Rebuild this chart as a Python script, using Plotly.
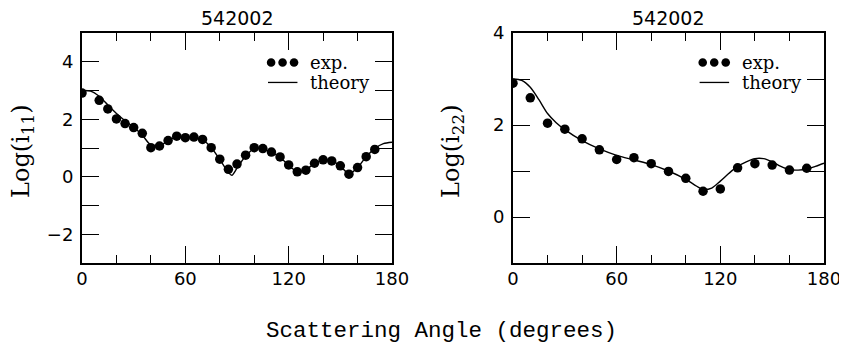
import plotly.graph_objects as go

# ---------------- data ----------------
# Left panel: Log(i11)
exp_angle_11 = [0, 10, 15, 20, 25, 30, 35, 40, 45, 50, 55, 60, 65, 70, 75, 80, 85, 90,
                95, 100, 105, 110, 115, 120, 125, 130, 135, 140, 145, 150, 155, 160, 165, 170]
exp_i11 = [2.91, 2.66, 2.36, 2.01, 1.85, 1.71, 1.51, 1.01, 1.07, 1.26, 1.41, 1.36, 1.38, 1.30,
           1.01, 0.61, 0.26, 0.44, 0.75, 1.01, 0.98, 0.86, 0.69, 0.41, 0.17, 0.23, 0.47, 0.59,
           0.55, 0.38, 0.09, 0.32, 0.70, 0.95]
theory_angle_11 = [0, 5, 10, 15, 20, 25, 30, 35, 40, 45, 50, 55, 60, 65, 70, 75, 80, 85, 87,
                   90, 95, 100, 105, 110, 115, 120, 125, 130, 135, 140, 145, 150, 155, 160,
                   165, 170, 175, 180]
theory_i11 = [3.00, 2.98, 2.80, 2.50, 2.20, 1.95, 1.72, 1.45, 1.10, 1.08, 1.25, 1.40, 1.38,
              1.37, 1.28, 1.02, 0.60, 0.15, 0.05, 0.30, 0.72, 0.98, 0.97, 0.85, 0.68, 0.40,
              0.18, 0.24, 0.47, 0.58, 0.55, 0.37, 0.10, 0.32, 0.70, 0.98, 1.15, 1.20]

# Right panel: Log(i22)
exp_angle_22 = [0, 10, 20, 30, 40, 50, 60, 70, 80, 90, 100, 110, 120, 130, 140, 150, 160, 170]
exp_i22 = [2.91, 2.59, 2.04, 1.91, 1.70, 1.46, 1.25, 1.29, 1.16, 0.99, 0.84, 0.56, 0.61,
           1.07, 1.16, 1.13, 1.02, 1.06]
theory_angle_22 = [0, 5, 10, 15, 20, 25, 30, 40, 50, 60, 70, 80, 90, 100, 105, 110, 115, 120,
                   125, 130, 135, 140, 145, 150, 155, 160, 165, 170, 175, 180]
theory_i22 = [3.00, 2.97, 2.82, 2.55, 2.25, 2.05, 1.90, 1.66, 1.48, 1.34, 1.24, 1.14, 1.00,
              0.82, 0.70, 0.60, 0.63, 0.78, 0.95, 1.10, 1.20, 1.27, 1.27, 1.20, 1.10, 1.03,
              1.02, 1.04, 1.10, 1.17]

panel_title = "542002"
x_title = "Scattering Angle (degrees)"
y_title_left = "Log(i<sub>11</sub>)"
y_title_right = "Log(i<sub>22</sub>)"
legend_exp = "exp."
legend_theory = "theory"

# ---------------- figure ----------------
# the page body adds an 8px margin: reference pixel positions are shifted by 8px
# (the figure keeps the full size; its overflow simply lies outside the window)
OFF = 8
W, H = 847, 347
fig = go.Figure()

for xa, ya, ax, ay, tx, ty in [("x", "y", exp_angle_11, exp_i11, theory_angle_11, theory_i11),
                               ("x2", "y2", exp_angle_22, exp_i22, theory_angle_22, theory_i22)]:
    fig.add_trace(go.Scatter(x=tx, y=ty, mode="lines",
                             line=dict(color="black", width=1.4, shape="spline", smoothing=0.8),
                             xaxis=xa, yaxis=ya, showlegend=False, hoverinfo="skip"))
    fig.add_trace(go.Scatter(x=ax, y=ay, mode="markers", marker=dict(color="black", size=9.5),
                             xaxis=xa, yaxis=ya, showlegend=False))

tickfont = dict(family="DejaVu Sans", size=18, color="black")


def xaxis_cfg(domain, anchor):
    return dict(domain=domain, anchor=anchor, range=[0, 180], tick0=0, dtick=60,
                ticks="inside", ticklen=17, tickwidth=1.3, tickcolor="black",
                minor=dict(dtick=20, ticks="inside", ticklen=8, tickwidth=1.3, tickcolor="black"),
                showline=True, linecolor="black", linewidth=2, mirror="ticks",
                showgrid=False, zeroline=False, tickfont=tickfont, ticklabelstandoff=-2)


def yaxis_cfg(domain, anchor, rng):
    return dict(domain=domain, anchor=anchor, range=rng, tick0=0, dtick=2,
                ticks="inside", ticklen=17, tickwidth=1.3, tickcolor="black",
                minor=dict(dtick=1, ticks="inside", ticklen=17, tickwidth=1.3, tickcolor="black"),
                showline=True, linecolor="black", linewidth=2, mirror="ticks",
                showgrid=False, zeroline=False, tickfont=tickfont, ticklabelstandoff=3)


def px_x(p):
    return (p - OFF) / W


def px_y(p):
    return 1 - (p - OFF) / H


ydom = [px_y(263), px_y(33)]
dom1 = [px_x(82), px_x(392)]
dom2 = [px_x(513), px_x(824)]

fig.update_layout(
    width=W, height=H,
    margin=dict(l=0, r=0, t=0, b=0, autoexpand=False),
    paper_bgcolor="white", plot_bgcolor="white",
    xaxis=xaxis_cfg(dom1, "y"),
    yaxis=yaxis_cfg(ydom, "x", [-3, 5]),
    xaxis2=xaxis_cfg(dom2, "y2"),
    yaxis2=yaxis_cfg(ydom, "x2", [-1, 4]),
    showlegend=False,
)

annotations = []
shapes = []
for xd, yd, ytitle, ytx in [("x domain", "y domain", y_title_left, px_x(22)),
                            ("x2 domain", "y2 domain", y_title_right, px_x(452))]:
    annotations.append(dict(text=panel_title, xref=xd, yref="paper", x=0.5, y=px_y(18),
                            xanchor="center", yanchor="middle", showarrow=False,
                            font=dict(family="DejaVu Sans", size=19, color="black")))
    annotations.append(dict(text=ytitle, xref="paper", yref="paper", x=ytx, y=px_y(151),
                            xanchor="center", yanchor="middle", textangle=-90, showarrow=False,
                            font=dict(family="DejaVu Serif", size=24, color="black")))
    # legend text
    annotations.append(dict(text=legend_exp, xref=xd, yref=yd, x=0.73, y=0.872,
                            xanchor="left", yanchor="middle", showarrow=False,
                            font=dict(family="DejaVu Serif", size=18, color="black")))
    annotations.append(dict(text=legend_theory, xref=xd, yref=yd, x=0.73, y=0.785,
                            xanchor="left", yanchor="middle", showarrow=False,
                            font=dict(family="DejaVu Serif", size=18, color="black")))
    # legend symbols
    for fx in (0.61, 0.647, 0.684):
        shapes.append(dict(type="circle", xref=xd, yref=yd, xsizemode="pixel", ysizemode="pixel",
                           xanchor=fx, yanchor=0.872, x0=-4.3, x1=4.3, y0=-4.3, y1=4.3,
                           fillcolor="black", line=dict(width=0)))
    shapes.append(dict(type="line", xref=xd, yref=yd, x0=0.6, x1=0.695, y0=0.785, y1=0.785,
                       line=dict(color="black", width=1.3)))

annotations.append(dict(text=x_title, xref="paper", yref="paper", x=px_x(442), y=px_y(331),
                        xanchor="center", yanchor="middle", showarrow=False,
                        font=dict(family="Liberation Mono", size=22.5, color="black")))

fig.update_layout(annotations=annotations, shapes=shapes)
fig.write_html("out.html")
